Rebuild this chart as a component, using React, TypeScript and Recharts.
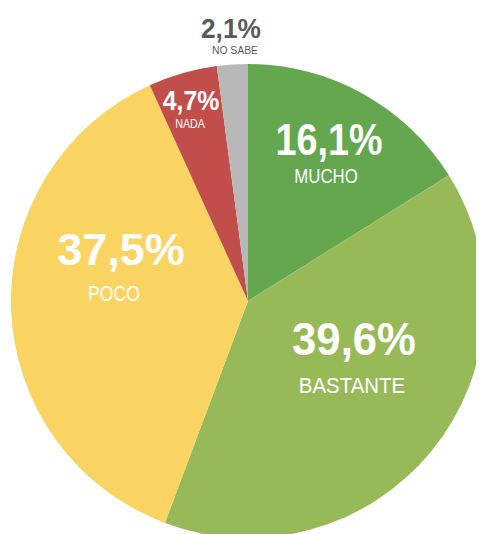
import React from "react";
import { PieChart, Pie, Cell } from "recharts";

const categories = ["MUCHO", "BASTANTE", "POCO", "NADA", "NO SABE"];
const values = [16.1, 39.6, 37.5, 4.7, 2.1];
const colors = ["#65a74e", "#97b957", "#fad462", "#c24e4b", "#b8b8b8"];

// label anchor per slice: polar angle (deg), radius fraction, sizes, squeeze, name offset
const labelStyle = [
  { angle: 61, r: 0.705, big: 45, bs: 0.84, small: 21, ss: 0.8, gap: 28, nx: -3, color: "#fff" },
  { angle: -27, r: 0.502, big: 46, bs: 0.95, small: 22, ss: 0.93, gap: 38, nx: -2, color: "#fff" },
  { angle: 164.2, r: 0.557, big: 45, bs: 1.0, small: 22, ss: 0.8, gap: 36, nx: -7, color: "#fff" },
  { angle: 106.6, r: 0.841, big: 27, bs: 0.92, small: 13, ss: 0.82, gap: 18, nx: -1, color: "#fff" },
  { angle: 93.7, r: 1.114, big: 28, bs: 0.94, small: 11.5, ss: 0.9, gap: 16, nx: 4, color: "#5a5a5a" },
];

const data = categories.map((name, i) => ({ name, value: values[i] }));

const FONT = "'Liberation Sans', Arial, sans-serif";

function fmt(v: number) {
  return v.toFixed(1).replace(".", ",") + "%";
}

// condensed look: squeeze Liberation Sans horizontally
function renderLabel(props: any) {
  const { cx, cy, outerRadius, index, value } = props;
  const s = labelStyle[index];
  const rad = (s.angle * Math.PI) / 180;
  const x = cx + outerRadius * s.r * Math.cos(rad);
  const y = cy - outerRadius * s.r * Math.sin(rad);
  return (
    <g key={"lbl" + index}>
      <text transform={`translate(${x},${y}) scale(${s.bs},1)`} textAnchor="middle" fill={s.color} fontFamily={FONT} fontWeight="bold" fontSize={s.big}>
        {fmt(value)}
      </text>
      <text transform={`translate(${x + s.nx},${y + s.gap}) scale(${s.ss},1)`} textAnchor="middle" fill={s.color} fontFamily={FONT} fontSize={s.small}>
        {categories[index]}
      </text>
    </g>
  );
}

export default function App() {
  return (
    <div style={{ width: 476, height: 526 }}>
      <PieChart width={476} height={526} margin={{ top: 0, right: 0, bottom: 0, left: 0 }}>
        <Pie
          data={data}
          dataKey="value"
          nameKey="name"
          cx={240}
          cy={293}
          outerRadius={237}
          startAngle={90}
          endAngle={-270}
          stroke="none"
          labelLine={false}
          label={renderLabel}
          isAnimationActive={false}
        >
          {data.map((d, i) => (
            <Cell key={d.name} fill={colors[i]} />
          ))}
        </Pie>
      </PieChart>
    </div>
  );
}
